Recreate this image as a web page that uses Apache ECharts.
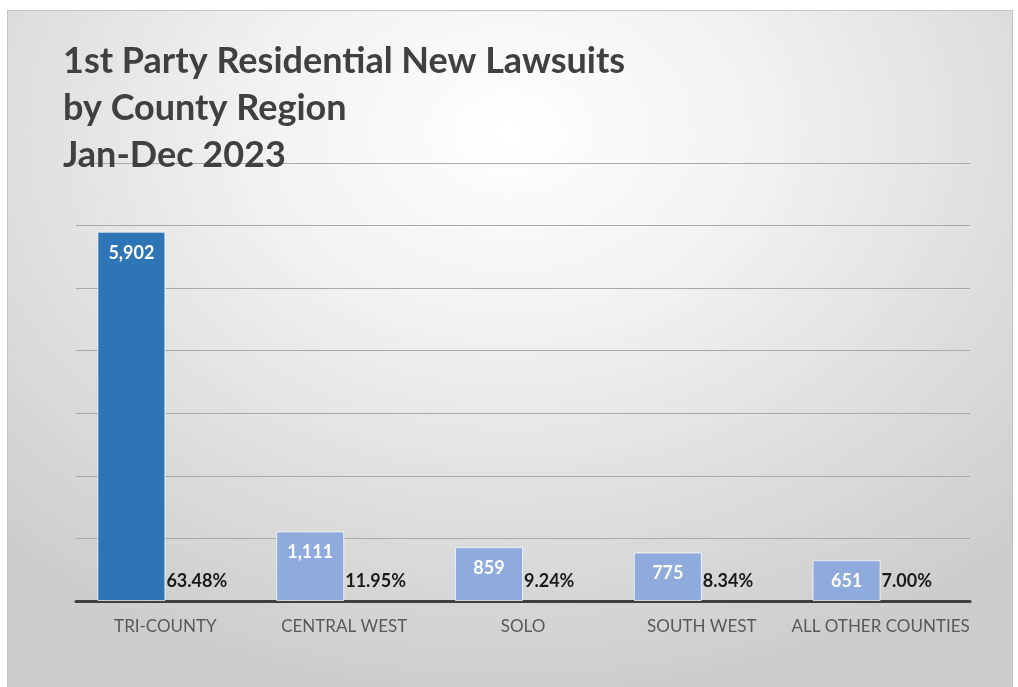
<!DOCTYPE html>
<html>
<head>
<meta charset="utf-8">
<script src="https://cdn.jsdelivr.net/npm/echarts@6/dist/echarts.min.js"></script>
<style>
  html, body { margin: 0; padding: 0; background: #ffffff; }
  /* framed slide-like panel with soft grey radial shading */
  .main {
    position: absolute;
    left: 7px;
    top: 10px;
    width: 1004px;
    height: 676px;
    border: 1px solid #c4c4c4;
    background: radial-gradient(ellipse 75% 85% at 50% 18%, #ffffff 0%, #f1f1f1 35%, #dcdcdc 70%, #cccccc 100%);
  }
</style>
</head>
<body>
<div id="chart" class="main"></div>
<script>
// data
const regions = ["TRI-COUNTY", "CENTRAL WEST", "SOLO", "SOUTH WEST", "ALL OTHER COUNTIES"];
const lawsuits = [5902, 1111, 859, 775, 651];
const shares = ["63.48%", "11.95%", "9.24%", "8.34%", "7.00%"];

const font = "Lato";
const myChart = echarts.init(document.getElementById("chart"));

const option = {
  backgroundColor: "transparent",
  title: {
    text: "1st Party Residential New Lawsuits\nby County Region\nJan-Dec 2023",
    left: 50,
    top: 22,
    textStyle: {
      fontFamily: font,
      fontWeight: "bold",
      fontSize: 36,
      lineHeight: 47,
      color: "#404040",
    },
  },
  grid: {
    left: 68,
    right: 42,
    top: 152,
    bottom: 86,
  },
  xAxis: {
    type: "category",
    data: regions,
    axisTick: { show: false },
    axisLine: { lineStyle: { color: "#3f3f3f", width: 3 } },
    axisLabel: {
      interval: 0,
      fontFamily: font,
      fontSize: 17,
      color: "#595959",
      margin: 17,
    },
  },
  yAxis: {
    type: "value",
    min: 0,
    max: 7000,
    interval: 1000,
    axisLabel: { show: false },
    axisLine: { show: false },
    axisTick: { show: false },
    splitLine: { lineStyle: { color: "#a9a9a9", width: 1 } },
  },
  series: [
    {
      name: "Lawsuits",
      type: "bar",
      barWidth: 68,
      barGap: "0%",
      data: lawsuits.map((v, i) => ({
        value: v,
        itemStyle: { color: i === 0 ? "#2e75b6" : "#8faadc" },
      })),
      itemStyle: {
        borderColor: "rgba(255,255,255,0.7)",
        borderWidth: 1,
      },
      label: {
        show: true,
        position: "insideTop",
        distance: 12,
        fontFamily: font,
        fontWeight: "bold",
        fontSize: 18,
        color: "#ffffff",
        formatter: (p) => p.value.toLocaleString("en-US"),
      },
    },
    {
      name: "Share",
      type: "bar",
      barWidth: 68,
      silent: true,
      data: shares.map(() => 0),
      itemStyle: { color: "transparent" },
      label: {
        show: true,
        position: [1, -20],
        verticalAlign: "middle",
        align: "left",
        fontFamily: font,
        fontWeight: "bold",
        fontSize: 18,
        color: "#1a1a1a",
        formatter: (p) => shares[p.dataIndex],
      },
    },
  ],
};

option && myChart.setOption(option);
</script>
</body>
</html>
